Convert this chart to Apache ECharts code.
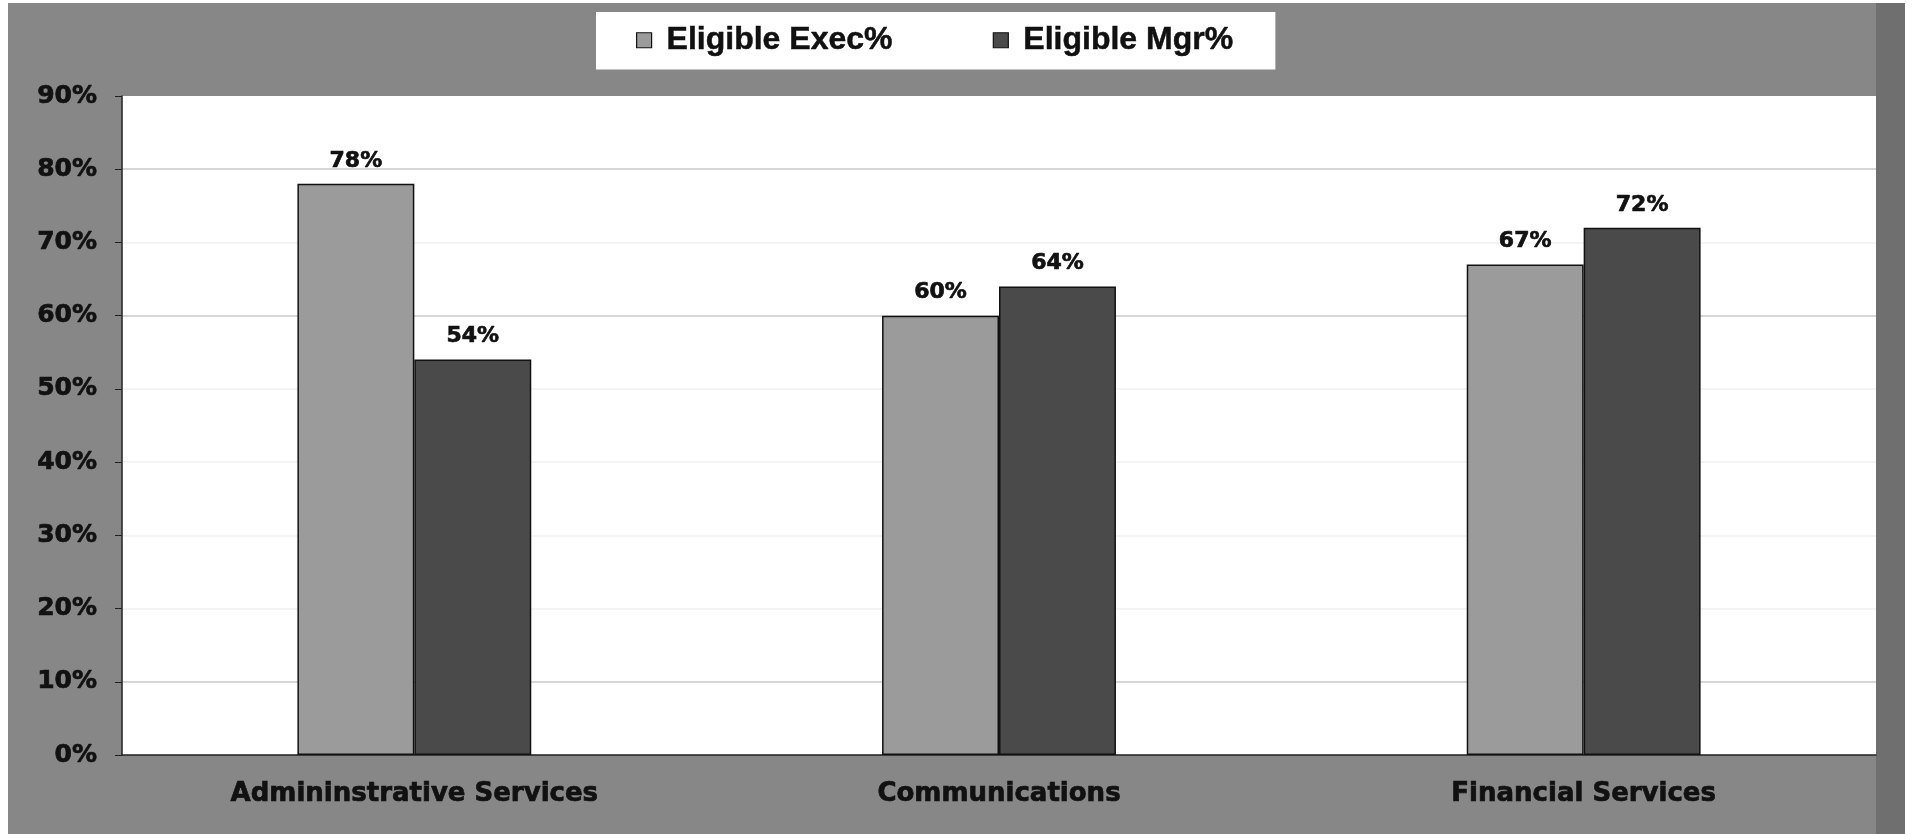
<!DOCTYPE html>
<html>
<head>
<meta charset="utf-8">
<title>Eligible Exec% vs Eligible Mgr%</title>
<script src="https://cdn.jsdelivr.net/npm/echarts@6/dist/echarts.min.js"></script>
<style>
  html, body { margin: 0; padding: 0; background: #ffffff; }
  #chart { width: 1915px; height: 834px; }
</style>
</head>
<body>
<div id="chart"></div>
<script>
// Categories along the x axis (spelling kept as printed on the chart)
const categories = ['Admininstrative Services', 'Communications', 'Financial Services'];

// Series names
const seriesNames = ['Eligible Exec%', 'Eligible Mgr%'];

// Percent values per category
const execValues = [78, 60, 67];
const mgrValues = [54, 64, 72];

// Value axis range and step (percent)
const yMin = 0;
const yMax = 90;
const yStep = 10;

const chart = echarts.init(document.getElementById('chart'), null, { renderer: 'canvas' });

const tickFont = 'DejaVu Sans';
const legendFont = 'Liberation Sans';
const inkColor = '#111111';

// Gridline colours cycle per tick: only some lines are drawn strongly
const gridColors = [
  'rgba(0,0,0,0)',   // 0%
  '#c9c9c9',         // 10%
  '#f1f1f1',         // 20%
  '#f1f1f1',         // 30%
  '#f1f1f1',         // 40%
  '#f1f1f1',         // 50%
  '#c9c9c9',         // 60%
  '#f1f1f1',         // 70%
  '#c9c9c9',         // 80%
  'rgba(0,0,0,0)'    // 90%
];

// Heavy bold text: bold face plus a thin outline in the same ink
function heavyText(size, extra) {
  return Object.assign({
    fontFamily: tickFont,
    fontWeight: 'bold',
    fontSize: size,
    color: inkColor,
    textBorderColor: inkColor,
    textBorderWidth: 0.7
  }, extra || {});
}

function barSeries(name, values, color) {
  return {
    name: name,
    type: 'bar',
    data: values,
    barGap: '0%',
    barCategoryGap: '60%',
    itemStyle: { color: color, borderColor: '#111111', borderWidth: 1.5 },
    label: heavyText(22, {
      show: true,
      position: 'top',
      distance: 12,
      formatter: '{c}%'
    })
  };
}

const option = {
  backgroundColor: '#ffffff',
  animation: false,
  graphic: [
    {
      type: 'rect',
      z: -10,
      shape: { x: 8, y: 3, width: 1897, height: 831 },
      style: { fill: '#878787' }
    },
    {
      type: 'rect',
      z: -9,
      shape: { x: 1876, y: 3, width: 29, height: 831 },
      style: { fill: '#6f6f6f' }
    }
  ],
  legend: {
    data: seriesNames,
    left: 596,
    top: 12,
    backgroundColor: '#ffffff',
    padding: [12, 42, 13, 40],
    itemGap: 100,
    itemWidth: 15,
    itemHeight: 15,
    icon: 'rect',
    itemStyle: { borderColor: '#111111', borderWidth: 1.2 },
    textStyle: {
      fontFamily: legendFont,
      fontWeight: 'bold',
      fontSize: 32,
      color: inkColor,
      textBorderColor: inkColor,
      textBorderWidth: 0.5,
      padding: [0, 0, 0, 10]
    }
  },
  grid: {
    left: 122,
    right: 39,
    top: 96,
    bottom: 79,
    show: true,
    backgroundColor: '#ffffff',
    borderWidth: 0
  },
  xAxis: {
    type: 'category',
    data: categories,
    axisLine: { show: true, lineStyle: { color: '#222222', width: 1.5 } },
    axisTick: { show: false },
    axisLabel: heavyText(26, { margin: 26 })
  },
  yAxis: {
    type: 'value',
    min: yMin,
    max: yMax,
    interval: yStep,
    axisLine: { show: true, lineStyle: { color: '#222222', width: 1.5 } },
    axisTick: { show: true, inside: false, length: 7, lineStyle: { color: '#222222' } },
    splitLine: { show: true, lineStyle: { color: gridColors, width: 1.5 } },
    axisLabel: heavyText(25, { margin: 25, formatter: '{value}%' })
  },
  series: [
    barSeries(seriesNames[0], execValues, '#9b9b9b'),
    barSeries(seriesNames[1], mgrValues, '#4a4a4a')
  ]
};

chart.setOption(option);
</script>
</body>
</html>
